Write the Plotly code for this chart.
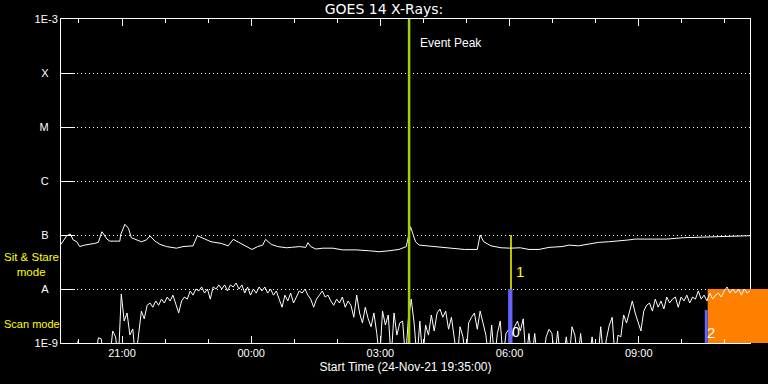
import pandas as pd
import plotly.graph_objects as go

# ---------------- data ----------------
start_time = "2021-11-24 19:35:00"
end_time = "2021-11-25 11:35:00"

# long channel (1-8 A): minutes after start, flux in units of 1e-7 W/m^2
long_minutes = [0, 8, 13, 17, 22, 26, 33, 40, 47, 52, 57, 64, 68, 82, 83, 89, 94, 98, 105, 112,
                119, 124, 131, 138, 147, 156, 161, 170, 184, 190, 198, 209, 223, 233, 240, 246, 256, 266, 274, 281,
                285, 293, 302, 314, 321, 332, 341, 344, 348, 355, 365, 379, 392, 411, 430, 443, 457, 471, 481, 483,
                487, 490, 494, 499, 511, 524, 543, 562, 580, 584, 589, 599, 613, 626, 640, 652, 666, 680, 698, 708,
                721, 735, 749, 763, 777, 791, 800, 821, 844, 867, 891, 914, 937, 960]
long_flux_e7 = [0.67, 0.97, 1.04, 0.81, 0.75, 0.61, 0.65, 0.67, 0.70, 0.73, 1.15, 0.84, 0.77, 0.77, 1.00, 1.58, 1.33, 0.89, 0.81, 0.75,
                0.81, 0.96, 0.77, 0.67, 0.61, 0.59, 0.57, 0.61, 0.63, 0.97, 0.87, 0.75, 0.70, 0.63, 0.83, 0.75, 0.65, 0.54, 0.61, 0.65,
                0.83, 0.67, 0.61, 0.58, 0.59, 0.61, 0.59, 0.72, 0.61, 0.55, 0.57, 0.57, 0.53, 0.53, 0.51, 0.49, 0.51, 0.54, 0.61, 0.81,
                1.42, 1.08, 0.75, 0.65, 0.63, 0.59, 0.57, 0.54, 0.54, 1.00, 0.75, 0.63, 0.58, 0.57, 0.58, 0.54, 0.54, 0.59, 0.61, 0.65,
                0.63, 0.67, 0.73, 0.75, 0.77, 0.81, 0.84, 0.83, 0.84, 0.89, 0.91, 0.93, 0.96, 0.97]

# short channel (0.5-4 A): one value every 4 minutes, flux in units of 1e-9 W/m^2
short_cadence_min = 4
short_flux_e9 = [
    0.5, 0.5, 0.5, 0.5, 0.5, 0.5, 1.1, 0.5, 0.5, 0.5, 0.5, 0.5, 0.5, 1.25, 1.2, 0.5, 0.5, 0.5, 1.67, 1.3,
    0.5, 8.1, 2.55, 3.6, 1.41, 1.82, 0.5, 1.53, 3.9, 2.8, 5.0, 5.5, 4.6, 6.0, 5.0, 6.5, 5.5, 7.1, 6.0, 7.7,
    5.5, 3.6, 6.0, 7.1, 6.5, 9.2, 7.7, 10.0, 9.2, 10.9, 8.4, 10.0, 6.5, 10.9, 10.0, 11.9, 10.0, 11.9, 9.2, 11.9,
    10.9, 12.9, 10.0, 11.9, 8.4, 10.9, 7.7, 10.0, 8.4, 10.9, 9.2, 10.9, 8.4, 10.0, 7.7, 9.2, 6.5, 4.6, 7.7, 6.0,
    8.4, 5.5, 7.1, 9.2, 8.4, 10.0, 7.7, 6.5, 4.6, 6.5, 7.7, 9.2, 7.1, 7.7, 6.0, 5.0, 6.5, 5.5, 7.1, 4.6,
    6.0, 5.0, 3.0, 7.7, 3.6, 2.35, 4.6, 2.8, 2.0, 3.6, 1.5, 0.5, 3.9, 2.15, 3.3, 0.5, 3.6, 1.4, 2.35, 2.55,
    0.5, 2.8, 6.5, 2.35, 0.5, 2.55, 0.5, 2.15, 1.4, 3.3, 1.67, 3.6, 4.26, 3.0, 3.9, 1.8, 3.0, 1.4, 0.5, 2.0,
    1.3, 0.5, 2.35, 3.0, 3.6, 1.8, 3.9, 2.35, 1.4, 0.5, 2.15, 0.5, 1.5, 2.55, 0.5, 1.5, 1.8, 1.3, 2.0, 2.55,
    1.67, 2.8, 0.5, 1.5, 0.5, 1.5, 0.5, 0.5, 0.5, 1.3, 1.8, 1.5, 0.5, 1.67, 0.5, 0.5, 1.3, 0.5, 2.0, 1.4,
    0.5, 1.5, 0.5, 0.5, 0.5, 1.3, 0.5, 0.5, 2.0, 0.5, 1.2, 2.15, 3.0, 0.5, 1.4, 1.3, 3.3, 2.35, 3.9, 6.0,
    3.6, 2.35, 1.67, 3.9, 5.0, 5.5, 3.9, 6.5, 4.6, 6.0, 4.26, 7.1, 5.5, 6.5, 7.1, 4.6, 7.1, 6.0, 7.7, 5.5,
    7.1, 6.5, 9.2, 6.5, 7.7, 6.0, 8.4, 6.5, 7.7, 8.4, 7.1, 9.2, 10.9, 8.4, 10.0, 8.4, 10.0, 7.7, 10.0, 8.4,
    9.2]

# flux levels and their labels
level_flux = [1e-9, 1e-8, 1e-7, 1e-6, 1e-5, 1e-4, 1e-3]
level_names = ["1E-9", "A", "B", "C", "M", "X", "1E-3"]

# events / observing modes
event_peak_time = "2021-11-25 03:40:00"
event1_time = "2021-11-25 06:02:00"
scan1_start, scan1_end = "2021-11-25 05:58:00", "2021-11-25 06:04:00"
scan2_start, scan2_end = "2021-11-25 10:32:00", "2021-11-25 10:36:00"
scan2_top = 4.1e-9
orange_start = "2021-11-25 10:36:00"

# ---------------- build ----------------
t0 = pd.Timestamp(start_time)
long_t = [t0 + pd.Timedelta(minutes=m) for m in long_minutes]
long_y = [v * 1e-7 for v in long_flux_e7]
short_t = [t0 + pd.Timedelta(minutes=short_cadence_min * i) for i in range(len(short_flux_e9))]
short_y = [v * 1e-9 for v in short_flux_e9]

FONT = "Liberation Sans"
TITLE_FONT = "DejaVu Sans"
WHITE = "#ffffff"
YELLOW = "#ffff00"
GREEN = "#a0d20a"
BLUE = "#6464ff"
ORANGE = "#ff8000"

fig = go.Figure()
fig.add_trace(go.Scatter(x=long_t, y=long_y, mode="lines",
                         line=dict(color=WHITE, width=1), hoverinfo="skip"))
fig.add_trace(go.Scatter(x=short_t, y=short_y, mode="lines",
                         line=dict(color=WHITE, width=1), hoverinfo="skip"))

level_ticktext = [n if len(n) > 1 else n + "\u00a0\u00a0\u00a0" for n in level_names]

shapes = [
    # orange scan block (inside plot, and running on to the page edge)
    dict(type="rect", xref="x", yref="y", x0=orange_start, x1=end_time,
         y0=level_flux[0], y1=level_flux[1], fillcolor=ORANGE, line=dict(width=0), layer="between"),
    dict(type="rect", xref="paper", yref="paper", x0=1.0, x1=1.03,
         y0=0, y1=1 / 6, fillcolor=ORANGE, line=dict(width=0), layer="above"),
    # blue scan markers
    dict(type="rect", xref="x", yref="y", x0=scan1_start, x1=scan1_end,
         y0=level_flux[0], y1=level_flux[1], fillcolor=BLUE, line=dict(width=0), layer="above"),
    dict(type="rect", xref="x", yref="y", x0=scan2_start, x1=scan2_end,
         y0=level_flux[0], y1=scan2_top, fillcolor=BLUE, line=dict(width=0), layer="above"),
    # event peak line
    dict(type="line", xref="x", yref="paper", x0=event_peak_time, x1=event_peak_time,
         y0=0, y1=1, line=dict(color=GREEN, width=2.5), layer="above"),
    # sit & stare marker
    dict(type="line", xref="x", yref="y", x0=event1_time, x1=event1_time,
         y0=level_flux[2], y1=level_flux[1], line=dict(color=YELLOW, width=1.5), layer="above"),
]

annotations = [
    dict(text="Event Peak", xref="x", x=event_peak_time, xshift=9, xanchor="left",
         yref="paper", y=0.926, yanchor="middle", showarrow=False,
         font=dict(family=FONT, size=12, color=WHITE)),
    dict(text="1", xref="x", x=event1_time, xshift=3, xanchor="left",
         yref="paper", y=0.222, yanchor="middle", showarrow=False,
         font=dict(family=FONT, size=15, color=YELLOW)),
    dict(text="0", xref="x", x=event1_time, xshift=-1, xanchor="left",
         yref="paper", y=0.033, yanchor="middle", showarrow=False,
         font=dict(family=FONT, size=14, color=WHITE)),
    dict(text="2", xref="x", x=orange_start, xshift=-3, xanchor="left",
         yref="paper", y=0.031, yanchor="middle", showarrow=False,
         font=dict(family=FONT, size=15, color=WHITE)),
    dict(text="Sit & Stare<br>\u00a0\u00a0\u00a0\u00a0mode", xref="paper", x=-0.0856, xanchor="left",
         align="left", yref="paper", y=0.241, yanchor="middle", showarrow=False,
         font=dict(family=FONT, size=11.5, color=YELLOW)),
    dict(text="Scan mode", xref="paper", x=-0.0856, xanchor="left",
         yref="paper", y=0.059, yanchor="middle", showarrow=False,
         font=dict(family=FONT, size=11, color=YELLOW)),
]

fig.update_layout(
    width=768, height=384,
    margin=dict(l=61, r=18, t=19, b=41),
    paper_bgcolor="black", plot_bgcolor="black",
    showlegend=False,
    font=dict(family=FONT, size=11, color=WHITE),
    title=dict(text="GOES 14 X-Rays:", x=0.5, xanchor="center", xref="container",
               y=1 - 9 / 384, yref="container", yanchor="middle",
               font=dict(family=TITLE_FONT, size=14, color=WHITE)),
    shapes=shapes,
    annotations=annotations,
)

fig.update_xaxes(
    type="date", range=[start_time, end_time],
    tick0="2021-11-24 00:00:00", dtick=3 * 3600 * 1000, tickformat="%H:%M",
    ticks="inside", ticklen=7, tickcolor=WHITE, tickwidth=1,
    minor=dict(dtick=3600 * 1000, ticks="inside", ticklen=4, tickcolor=WHITE, showgrid=False),
    showgrid=False, zeroline=False,
    showline=True, linecolor=WHITE, linewidth=1, mirror="allticks",
    tickfont=dict(family=FONT, size=11, color=WHITE),
    title=dict(text="Start Time (24-Nov-21 19:35:00)", standoff=4,
               font=dict(family=FONT, size=12, color=WHITE)),
)
fig.update_yaxes(
    type="log", range=[-9, -3],
    tickvals=level_flux, ticktext=level_ticktext,
    ticks="inside", ticklen=14, tickcolor=WHITE, tickwidth=1,
    showgrid=True, gridcolor=WHITE, gridwidth=1, griddash="1px,3px",
    zeroline=False, showline=True, linecolor=WHITE, linewidth=1, mirror=True,
    tickfont=dict(family=FONT, size=11, color=WHITE),
)

fig.write_html("out.html", config={"displayModeBar": False},
               post_script="document.body.style.margin='0';document.body.style.background='black';")
